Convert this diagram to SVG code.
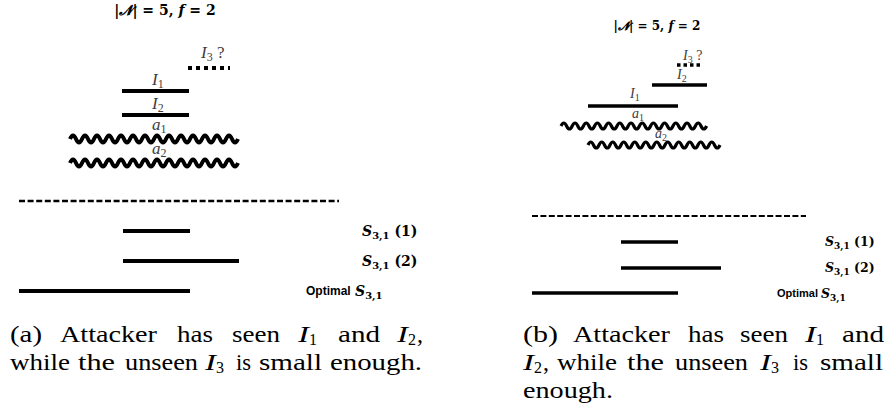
<svg xmlns="http://www.w3.org/2000/svg" width="888" height="417" viewBox="0 0 888 417">
<style>
.bar{stroke:#000;stroke-width:4;fill:none}
.barR{stroke:#000;stroke-width:3.5;fill:none}
.wave{stroke:#000;stroke-width:4;fill:none;stroke-linejoin:round}
.waveR{stroke:#000;stroke-width:3.2;fill:none;stroke-linejoin:round}
.dash{stroke:#000;stroke-width:2.5;fill:none;stroke-dasharray:6 2.6}
.dot{stroke:#000;stroke-width:4;fill:none;stroke-dasharray:4 4}
.m{font-family:"Liberation Serif",serif;font-style:italic;fill:#404040}
.title{font-family:"DejaVu Serif",serif;font-weight:bold;fill:#000}
.s{font-family:"DejaVu Serif",serif;font-weight:bold;fill:#000}
.opt{font-family:"Liberation Sans",Arial,sans-serif;font-weight:bold;fill:#000}
.cap text{font-family:"Liberation Serif",serif;font-size:24px;fill:#000}
.cap .i{font-style:italic}
.cap .sub{font-size:16px}
</style>

<!-- Panel (a) -->
<g id="panel-a">
  <g id="a-title"><text class="title" x="165" y="15" font-size="14" text-anchor="middle">|<tspan font-style="italic">𝓝</tspan>| = 5, <tspan font-style="italic">f</tspan> = 2</text></g>
  <g id="a-I3">
    <line class="dot" x1="188" y1="68" x2="230" y2="68"/>
    <text class="m" x="201" y="58" font-size="17">I<tspan font-size="12" dy="3" font-style="normal">3</tspan><tspan dy="-3" font-style="normal"> ?</tspan></text>
  </g>
  <g id="a-I1">
    <line class="bar" x1="122" y1="91" x2="189" y2="91"/>
    <text class="m" x="152" y="85" font-size="17">I<tspan font-size="12" dy="3" font-style="normal">1</tspan></text>
  </g>
  <g id="a-I2">
    <line class="bar" x1="122" y1="115" x2="189" y2="115"/>
    <text class="m" x="152" y="109" font-size="17">I<tspan font-size="12" dy="3" font-style="normal">2</tspan></text>
  </g>
  <g id="a-a1">
    <path class="wave" d="M70 139q3 -7 6 0t6 0t6 0t6 0t6 0t6 0t6 0t6 0t6 0t6 0t6 0t6 0t6 0t6 0t6 0t6 0t6 0t6 0t6 0t6 0t6 0t6 0t6 0t6 0t6 0t6 0t6 0t6 0"/>
    <text class="m" x="152" y="130" font-size="17">a<tspan font-size="12" dy="3" font-style="normal">1</tspan></text>
  </g>
  <g id="a-a2">
    <path class="wave" d="M70 163q3 -7 6 0t6 0t6 0t6 0t6 0t6 0t6 0t6 0t6 0t6 0t6 0t6 0t6 0t6 0t6 0t6 0t6 0t6 0t6 0t6 0t6 0t6 0t6 0t6 0t6 0t6 0t6 0t6 0"/>
    <text class="m" x="152" y="154" font-size="17">a<tspan font-size="12" dy="3" font-style="normal">2</tspan></text>
  </g>
  <g id="a-divider"><line class="dash" x1="19" y1="201" x2="339" y2="201"/></g>
  <g id="a-S1">
    <line class="bar" x1="123" y1="231" x2="190" y2="231"/>
    <text class="s" x="362" y="236" font-size="14"><tspan font-style="italic">S</tspan><tspan font-size="10" dy="3">3,1</tspan><tspan dy="-3"> (1)</tspan></text>
  </g>
  <g id="a-S2">
    <line class="bar" x1="123" y1="261" x2="239" y2="261"/>
    <text class="s" x="362" y="266" font-size="14"><tspan font-style="italic">S</tspan><tspan font-size="10" dy="3">3,1</tspan><tspan dy="-3"> (2)</tspan></text>
  </g>
  <g id="a-opt">
    <line class="bar" x1="19" y1="291" x2="190" y2="291"/>
    <text class="opt" x="306" y="295" font-size="12">Optimal</text>
    <text class="s" x="355" y="296" font-size="14"><tspan font-style="italic">S</tspan><tspan font-size="10" dy="3">3,1</tspan></text>
  </g>
</g>

<!-- Panel (b) -->
<g id="panel-b">
  <g id="b-title"><text class="title" x="657" y="30" font-size="12" text-anchor="middle">|<tspan font-style="italic">𝓝</tspan>| = 5, <tspan font-style="italic">f</tspan> = 2</text></g>
  <g id="b-I3">
    <line class="dot" x1="677" y1="65" x2="702" y2="65" style="stroke-width:3.5;stroke-dasharray:3.5 3"/>
    <text class="m" x="683" y="60" font-size="14">I<tspan font-size="10" dy="3" font-style="normal">3</tspan><tspan dy="-3" font-style="normal"> ?</tspan></text>
  </g>
  <g id="b-I2">
    <line class="barR" x1="652" y1="85" x2="707" y2="85"/>
    <text class="m" x="677" y="79" font-size="14">I<tspan font-size="10" dy="3" font-style="normal">2</tspan></text>
  </g>
  <g id="b-I1">
    <line class="barR" x1="588" y1="106" x2="678" y2="106"/>
    <text class="m" x="630" y="98" font-size="14">I<tspan font-size="10" dy="3" font-style="normal">1</tspan></text>
  </g>
  <g id="b-a1">
    <path class="waveR" d="M561 126q2.8 -6 5.6 0t5.6 0t5.6 0t5.6 0t5.6 0t5.6 0t5.6 0t5.6 0t5.6 0t5.6 0t5.6 0t5.6 0t5.6 0t5.6 0t5.6 0t5.6 0t5.6 0t5.6 0t5.6 0t5.6 0t5.6 0t5.6 0t5.6 0t5.6 0t5.6 0t5.6 0"/>
    <text class="m" x="632" y="118" font-size="14">a<tspan font-size="10" dy="3" font-style="normal">1</tspan></text>
  </g>
  <g id="b-a2">
    <path class="waveR" d="M588 145q2.75 -6 5.5 0t5.5 0t5.5 0t5.5 0t5.5 0t5.5 0t5.5 0t5.5 0t5.5 0t5.5 0t5.5 0t5.5 0t5.5 0t5.5 0t5.5 0t5.5 0t5.5 0t5.5 0t5.5 0t5.5 0t5.5 0t5.5 0t5.5 0t5.5 0"/>
    <text class="m" x="655" y="138" font-size="14">a<tspan font-size="10" dy="3" font-style="normal">2</tspan></text>
  </g>
  <g id="b-divider"><line class="dash" x1="532" y1="216" x2="806" y2="216" style="stroke-width:2;stroke-dasharray:6 2.4"/></g>
  <g id="b-S1">
    <line class="barR" x1="621" y1="242" x2="678" y2="242"/>
    <text class="s" x="825" y="246" font-size="12.5"><tspan font-style="italic">S</tspan><tspan font-size="9" dy="3">3,1</tspan><tspan dy="-3"> (1)</tspan></text>
  </g>
  <g id="b-S2">
    <line class="barR" x1="621" y1="268" x2="721" y2="268"/>
    <text class="s" x="825" y="272" font-size="12.5"><tspan font-style="italic">S</tspan><tspan font-size="9" dy="3">3,1</tspan><tspan dy="-3"> (2)</tspan></text>
  </g>
  <g id="b-opt">
    <line class="barR" x1="532" y1="293" x2="678" y2="293"/>
    <text class="opt" x="777" y="297" font-size="11">Optimal</text>
    <text class="s" x="821" y="298" font-size="12.5"><tspan font-style="italic">S</tspan><tspan font-size="9" dy="3">3,1</tspan></text>
  </g>
</g>

<!-- Captions -->
<g id="caption-a" class="cap">
  <text x="10" y="342" textLength="32" lengthAdjust="spacingAndGlyphs">(a)</text>
  <text x="60" y="342" textLength="97" lengthAdjust="spacingAndGlyphs">Attacker</text>
  <text x="177" y="342" textLength="36" lengthAdjust="spacingAndGlyphs">has</text>
  <text x="232" y="342" textLength="48" lengthAdjust="spacingAndGlyphs">seen</text>
  <text class="i" x="298" y="342" textLength="11" lengthAdjust="spacingAndGlyphs">I</text>
  <text class="sub" x="309" y="345">1</text>
  <text x="338" y="342" textLength="42" lengthAdjust="spacingAndGlyphs">and</text>
  <text class="i" x="397" y="342" textLength="11" lengthAdjust="spacingAndGlyphs">I</text>
  <text class="sub" x="408" y="345">2</text>
  <text x="417" y="342">,</text>
  <text x="10" y="370" textLength="60" lengthAdjust="spacingAndGlyphs">while</text>
  <text x="78" y="370" textLength="37" lengthAdjust="spacingAndGlyphs">the</text>
  <text x="125" y="370" textLength="73" lengthAdjust="spacingAndGlyphs">unseen</text>
  <text class="i" x="205" y="370" textLength="11" lengthAdjust="spacingAndGlyphs">I</text>
  <text class="sub" x="216" y="373">3</text>
  <text x="236" y="370" textLength="15" lengthAdjust="spacingAndGlyphs">is</text>
  <text x="259" y="370" textLength="63" lengthAdjust="spacingAndGlyphs">small</text>
  <text x="330" y="370" textLength="92" lengthAdjust="spacingAndGlyphs">enough.</text>
</g>
<g id="caption-b" class="cap">
  <text x="523" y="342" textLength="35" lengthAdjust="spacingAndGlyphs">(b)</text>
  <text x="573" y="342" textLength="97" lengthAdjust="spacingAndGlyphs">Attacker</text>
  <text x="688" y="342" textLength="36" lengthAdjust="spacingAndGlyphs">has</text>
  <text x="740" y="342" textLength="48" lengthAdjust="spacingAndGlyphs">seen</text>
  <text class="i" x="805" y="342" textLength="11" lengthAdjust="spacingAndGlyphs">I</text>
  <text class="sub" x="816" y="345">1</text>
  <text x="842" y="342" textLength="42" lengthAdjust="spacingAndGlyphs">and</text>
  <text class="i" x="523" y="370" textLength="11" lengthAdjust="spacingAndGlyphs">I</text>
  <text class="sub" x="534" y="373">2</text>
  <text x="543" y="370">,</text>
  <text x="557" y="370" textLength="60" lengthAdjust="spacingAndGlyphs">while</text>
  <text x="627" y="370" textLength="37" lengthAdjust="spacingAndGlyphs">the</text>
  <text x="675" y="370" textLength="73" lengthAdjust="spacingAndGlyphs">unseen</text>
  <text class="i" x="760" y="370" textLength="11" lengthAdjust="spacingAndGlyphs">I</text>
  <text class="sub" x="771" y="373">3</text>
  <text x="793" y="370" textLength="15" lengthAdjust="spacingAndGlyphs">is</text>
  <text x="820" y="370" textLength="63" lengthAdjust="spacingAndGlyphs">small</text>
  <text x="523" y="398" textLength="90" lengthAdjust="spacingAndGlyphs">enough.</text>
</g>
</svg>
